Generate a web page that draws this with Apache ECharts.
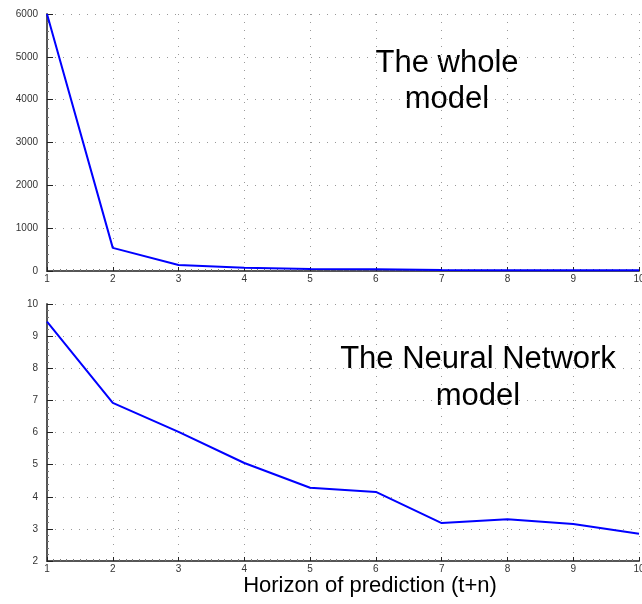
<!DOCTYPE html>
<html>
<head>
<meta charset="utf-8">
<script src="https://cdn.jsdelivr.net/npm/echarts@6/dist/echarts.min.js"></script>
<style>
  html, body { margin: 0; padding: 0; background: #fff; }
  #main { width: 642px; height: 604px; }
</style>
</head>
<body>
<div id="main"></div>
<script>
// horizon of prediction (t+n)
const horizons = [1, 2, 3, 4, 5, 6, 7, 8, 9, 10];
// error of the whole model
const wholeModel = [6000, 540, 140, 75, 45, 38, 22, 18, 16, 15];
// error of the neural network model
const nnModel = [9.45, 6.92, 6.02, 5.05, 4.28, 4.15, 3.18, 3.3, 3.15, 2.85];

const chart = echarts.init(document.getElementById("main"));

const font = "Liberation Sans, Arial, sans-serif";
const axisColor = "#555";

function makeX(gridIndex) {
  return {
    type: "value",
    gridIndex: gridIndex,
    min: 1,
    max: 10,
    interval: 1,
    axisLine: { onZero: false, lineStyle: { color: axisColor, width: 2 } },
    axisTick: { inside: true, length: 4, lineStyle: { color: "#222" } },
    minorTick: { show: true, splitNumber: 10, length: 2, lineStyle: { color: "#777" } },
    axisLabel: { color: "#333", fontSize: 10, fontFamily: font, margin: 3 },
    splitLine: { show: true, lineStyle: { color: "#999", type: [1, 7], width: 1 } },
  };
}

function makeY(gridIndex, min, max, interval) {
  return {
    type: "value",
    gridIndex: gridIndex,
    min: min,
    max: max,
    interval: interval,
    axisLine: { show: true, lineStyle: { color: axisColor, width: 2 } },
    axisTick: { show: true, inside: true, length: 6, lineStyle: { color: "#222" } },
    minorTick: { show: true, splitNumber: 5, length: 2, lineStyle: { color: "#777" } },
    axisLabel: { color: "#333", fontSize: 10, fontFamily: font, margin: 9, formatter: (v) => String(v) },
    splitLine: { show: true, lineStyle: { color: "#999", type: [1, 7], width: 1 } },
  };
}

const option = {
  backgroundColor: "#fff",
  animation: false,
  grid: [
    { left: 47, right: 3, top: 14, height: 257, outerBoundsMode: "none", containLabel: false },
    { left: 47, right: 3, top: 304, height: 257, outerBoundsMode: "none", containLabel: false },
  ],
  xAxis: [makeX(0), makeX(1)],
  yAxis: [makeY(0, 0, 6000, 1000), makeY(1, 2, 10, 1)],
  series: [
    {
      type: "line",
      xAxisIndex: 0,
      yAxisIndex: 0,
      data: horizons.map((h, i) => [h, wholeModel[i]]),
      symbol: "none",
      lineStyle: { color: "#0000ff", width: 2 },
    },
    {
      type: "line",
      xAxisIndex: 1,
      yAxisIndex: 1,
      data: horizons.map((h, i) => [h, nnModel[i]]),
      symbol: "none",
      lineStyle: { color: "#0000ff", width: 2 },
    },
  ],
  graphic: [
    {
      type: "text",
      x: 447, y: 45,
      style: { text: "The whole\nmodel", font: "31px " + font, fill: "#000", align: "center", verticalAlign: "top", lineHeight: 36 },
    },
    {
      type: "text",
      x: 478, y: 341,
      style: { text: "The Neural Network\nmodel", font: "31px " + font, fill: "#000", align: "center", verticalAlign: "top", lineHeight: 37 },
    },
    {
      type: "text",
      x: 370, y: 575,
      style: { text: "Horizon of prediction (t+n)", font: "22px " + font, fill: "#000", align: "center", verticalAlign: "top" },
    },
  ],
};

chart.setOption(option);
</script>
</body>
</html>
